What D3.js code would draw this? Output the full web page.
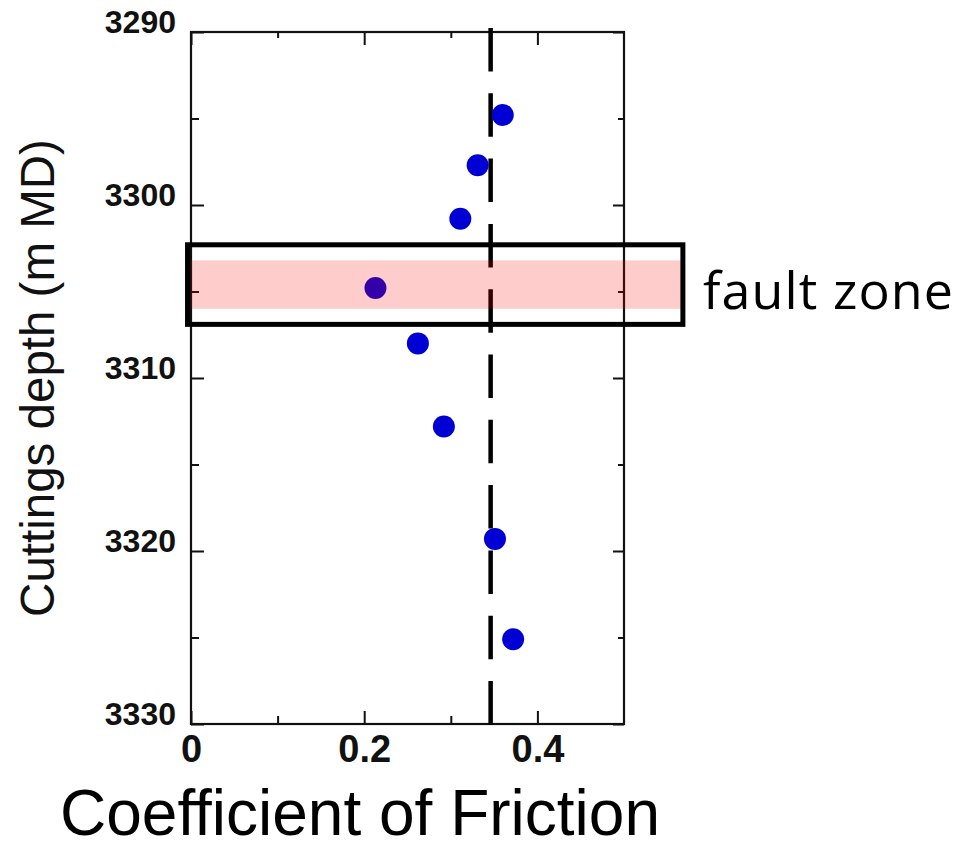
<!DOCTYPE html>
<html>
<head>
<meta charset="utf-8">
<script src="https://cdn.jsdelivr.net/npm/d3@7"></script>
<style>
  body { margin: 0; background: #fff; }
  svg { display: block; }
</style>
</head>
<body>
<div id="chart"></div>
<script>
// cuttings samples: friction coefficient vs depth
var friction = [0.360, 0.331, 0.311, 0.213, 0.262, 0.292, 0.351, 0.372];
var depth = [3294.8, 3297.7, 3300.8, 3304.8, 3308.0, 3312.8, 3319.3, 3325.1];

var yTicks = [3290, 3300, 3310, 3320, 3330];
var yMinor = [3295, 3305, 3315, 3325];
var xTicks = [0, 0.2, 0.4];
var xMinor = [0.1, 0.3];

var meanFriction = 0.346;
var faultBand = [3303.2, 3306.0];
var faultBox = [3302.3, 3306.9];
var faultX = [-0.004, 0.568];

var W = 964, H = 848;
var plotL = 191, plotR = 624, plotT = 32, plotB = 724;

var svg = d3.select("#chart")
  .append("svg")
  .attr("width", W)
  .attr("height", H);

svg.append("rect").attr("width", W).attr("height", H).attr("fill", "#fff");

var x = d3.scaleLinear().domain([0, 0.5]).range([plotL, plotR]);
var y = d3.scaleLinear().domain([3290, 3330]).range([plotT, plotB]);

//axes, ticks pointing inwards
function styleAxis(g) {
  g.select(".domain").remove();
  g.selectAll(".tick line").attr("stroke", "#111").attr("stroke-width", 2);
}

svg.append("g")
  .attr("transform", "translate(0," + plotB + ")")
  .call(d3.axisBottom(x).tickValues(xTicks).tickSize(-13).tickPadding(11).tickFormat(d3.format("")))
  .call(styleAxis)
  .call(function(g) {
    g.selectAll("text")
      .attr("fill", "#111")
      .style("font-family", "'Liberation Sans', Arial, sans-serif")
      .style("font-weight", "bold")
      .style("font-size", "38px");
  });
svg.append("g")
  .attr("transform", "translate(0," + plotB + ")")
  .call(d3.axisBottom(x).tickValues(xMinor).tickSize(-8).tickFormat(""))
  .call(styleAxis);
svg.append("g")
  .attr("transform", "translate(0," + plotT + ")")
  .call(d3.axisTop(x).tickValues(xTicks).tickSize(-13).tickFormat(""))
  .call(styleAxis);
svg.append("g")
  .attr("transform", "translate(0," + plotT + ")")
  .call(d3.axisTop(x).tickValues(xMinor).tickSize(-6).tickFormat(""))
  .call(styleAxis);

svg.append("g")
  .attr("transform", "translate(" + plotL + ",0)")
  .call(d3.axisLeft(y).tickValues(yTicks).tickSize(-13).tickPadding(15).tickFormat(d3.format("d")))
  .call(styleAxis)
  .call(function(g) {
    g.selectAll("text")
      .attr("y", -10)
      .attr("fill", "#111")
      .style("font-family", "'Liberation Sans', Arial, sans-serif")
      .style("font-weight", "bold")
      .style("font-size", "32px");
  });
svg.append("g")
  .attr("transform", "translate(" + plotL + ",0)")
  .call(d3.axisLeft(y).tickValues(yMinor).tickSize(-8).tickFormat(""))
  .call(styleAxis);
svg.append("g")
  .attr("transform", "translate(" + plotR + ",0)")
  .call(d3.axisRight(y).tickValues(yTicks).tickSize(-11).tickFormat(""))
  .call(styleAxis);
svg.append("g")
  .attr("transform", "translate(" + plotR + ",0)")
  .call(d3.axisRight(y).tickValues(yMinor).tickSize(-6).tickFormat(""))
  .call(styleAxis);

//frame
svg.append("rect")
  .attr("x", plotL)
  .attr("y", plotT)
  .attr("width", plotR - plotL)
  .attr("height", plotB - plotT)
  .attr("fill", "none")
  .attr("stroke", "#111")
  .attr("stroke-width", 2.2);

//mean friction dashed line
svg.append("line")
  .attr("x1", x(meanFriction))
  .attr("x2", x(meanFriction))
  .attr("y1", plotT - 4)
  .attr("y2", plotB + 4)
  .attr("stroke", "#000")
  .attr("stroke-width", 4.5)
  .attr("stroke-dasharray", "43.5,21.8");

//points
svg.selectAll("circle")
  .data(friction)
  .enter()
  .append("circle")
  .attr("cx", function(d) { return x(d); })
  .attr("cy", function(d, i) { return y(depth[i]); })
  .attr("r", 11)
  .attr("fill", "#0000d4");

//fault zone band + outline
svg.append("rect")
  .attr("x", x(0))
  .attr("y", y(faultBand[0]))
  .attr("width", x(faultX[1]) - x(0))
  .attr("height", y(faultBand[1]) - y(faultBand[0]))
  .attr("fill", "rgba(255,0,0,0.2)");

svg.append("rect")
  .attr("x", x(faultX[0]))
  .attr("y", y(faultBox[0]))
  .attr("width", x(faultX[1]) - x(faultX[0]))
  .attr("height", y(faultBox[1]) - y(faultBox[0]))
  .attr("fill", "none")
  .attr("stroke", "#000")
  .attr("stroke-width", 5);

svg.append("text")
  .attr("x", 703)
  .attr("y", 309)
  .attr("textLength", 250)
  .attr("lengthAdjust", "spacing")
  .style("font-family", "'Open Sans', 'Noto Sans', sans-serif")
  .style("font-size", "52px")
  .attr("fill", "#000")
  .text("fault zone");

//axis titles
svg.append("text")
  .attr("x", 360)
  .attr("y", 835)
  .style("text-anchor", "middle")
  .style("font-family", "'Liberation Sans', Arial, sans-serif")
  .style("font-size", "64px")
  .attr("fill", "#000")
  .text("Coefficient of Friction");

svg.append("text")
  .attr("transform", "translate(54,378) rotate(-90)")
  .style("text-anchor", "middle")
  .style("font-family", "'Liberation Sans', Arial, sans-serif")
  .style("font-size", "47.5px")
  .attr("fill", "#111")
  .text("Cuttings depth (m MD)");
</script>
</body>
</html>
